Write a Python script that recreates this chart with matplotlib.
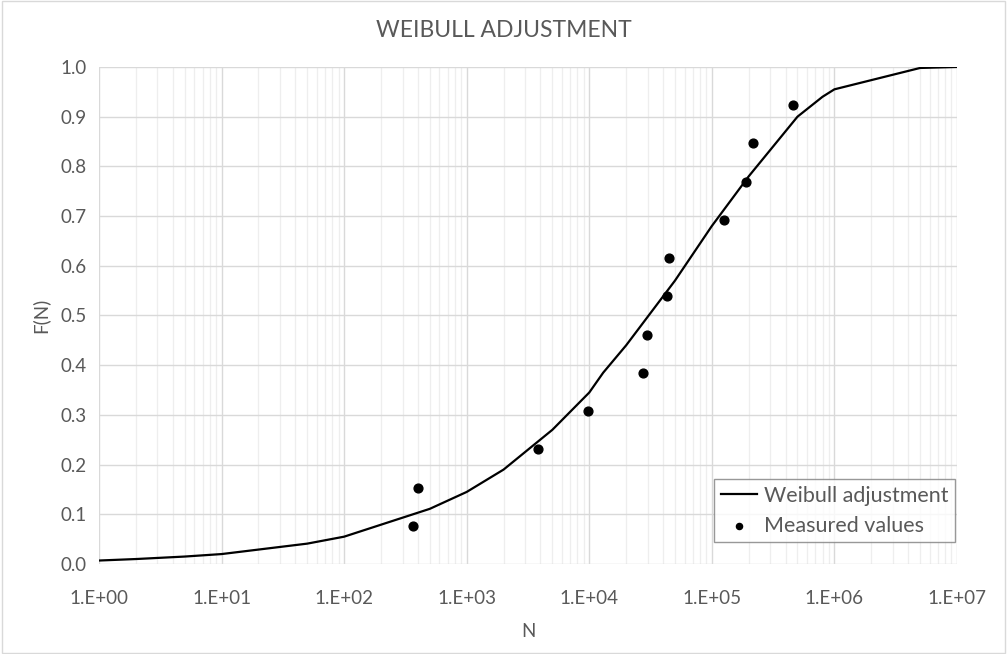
import matplotlib
matplotlib.use("Agg")
from matplotlib import pyplot as plt
from matplotlib.ticker import LogLocator, FixedLocator, NullFormatter
import numpy as np

# Weibull fit
fit_n = [1, 2, 5, 10, 50, 100, 500, 1000, 2000, 5000, 10000, 13000, 20000,
         50000, 100000, 200000, 500000, 800000, 1000000, 5000000, 10000000]
fit_f = [0.007, 0.010, 0.015, 0.020, 0.041, 0.055, 0.111, 0.145, 0.190, 0.270,
         0.345, 0.385, 0.440, 0.570, 0.680, 0.780, 0.900, 0.940, 0.955, 0.998, 1.000]

# measured points
meas_n = [364, 400, 3800, 9750, 27400, 29500, 43000, 44600, 125000, 190000, 215000, 460000]
meas_f = [0.0769, 0.1538, 0.2308, 0.3077, 0.3846, 0.4615, 0.5385, 0.6154,
          0.6923, 0.7692, 0.8462, 0.9231]

xticks = [1e0, 1e1, 1e2, 1e3, 1e4, 1e5, 1e6, 1e7]
xlabels = ["1.E+00", "1.E+01", "1.E+02", "1.E+03", "1.E+04", "1.E+05", "1.E+06", "1.E+07"]

plt.rcParams['font.family'] = ['Lato', 'DejaVu Sans']
txt = '#595959'

fig = plt.figure(figsize=(10.07, 6.54), dpi=100)
ax = fig.add_axes([0.0983, 0.1376, 0.852, 0.760])

ax.plot(fit_n, fit_f, color='black', lw=1.6, label='Weibull adjustment', zorder=3)
ax.scatter(meas_n, meas_f, s=40, color='black', label='Measured values', zorder=4)

ax.set_xscale('log')
ax.set_xlim(1, 1e7)
ax.set_ylim(0, 1.0)
ax.xaxis.set_major_locator(FixedLocator(xticks))
ax.set_xticklabels(xlabels)
ax.xaxis.set_minor_locator(LogLocator(base=10, subs=np.arange(2, 10)))
ax.xaxis.set_minor_formatter(NullFormatter())
ax.set_yticks(np.arange(0, 1.01, 0.1))
ax.set_yticklabels([f"{v:.1f}" for v in np.arange(0, 1.01, 0.1)])

ax.grid(which='major', color='#d9d9d9', lw=1.0, zorder=0)
ax.grid(which='minor', axis='x', color='#eeeeee', lw=0.9, zorder=0)
ax.set_axisbelow(True)
for s in ax.spines.values():
    s.set_visible(False)
ax.tick_params(which='both', length=0, labelsize=13.5, colors=txt)
ax.tick_params(axis='x', pad=19)
ax.tick_params(axis='y', pad=9)

ax.set_xlabel('N', fontsize=13.5, color=txt, labelpad=11)
ax.set_ylabel('F(N)', fontsize=13.5, color=txt, labelpad=8)
fig.text(0.5, 0.954, 'WEIBULL ADJUSTMENT', fontsize=16.5, color=txt,
         ha='center', va='center')

leg = ax.legend(loc='lower right', bbox_to_anchor=(1.0, 0.04), fontsize=15.5,
                frameon=True, fancybox=False, edgecolor='#7f7f7f',
                handlelength=1.7, handletextpad=0.3, borderpad=0.3,
                labelspacing=0.45, borderaxespad=0.1, markerscale=0.7)
for t in leg.get_texts():
    t.set_color(txt)
leg.get_frame().set_linewidth(1.0)

fig.patches.append(plt.Rectangle((0.002, 0.002), 0.996, 0.996, transform=fig.transFigure,
                                 fill=False, edgecolor='#d9d9d9', lw=1.0))

fig.savefig('out.png', dpi=100)
